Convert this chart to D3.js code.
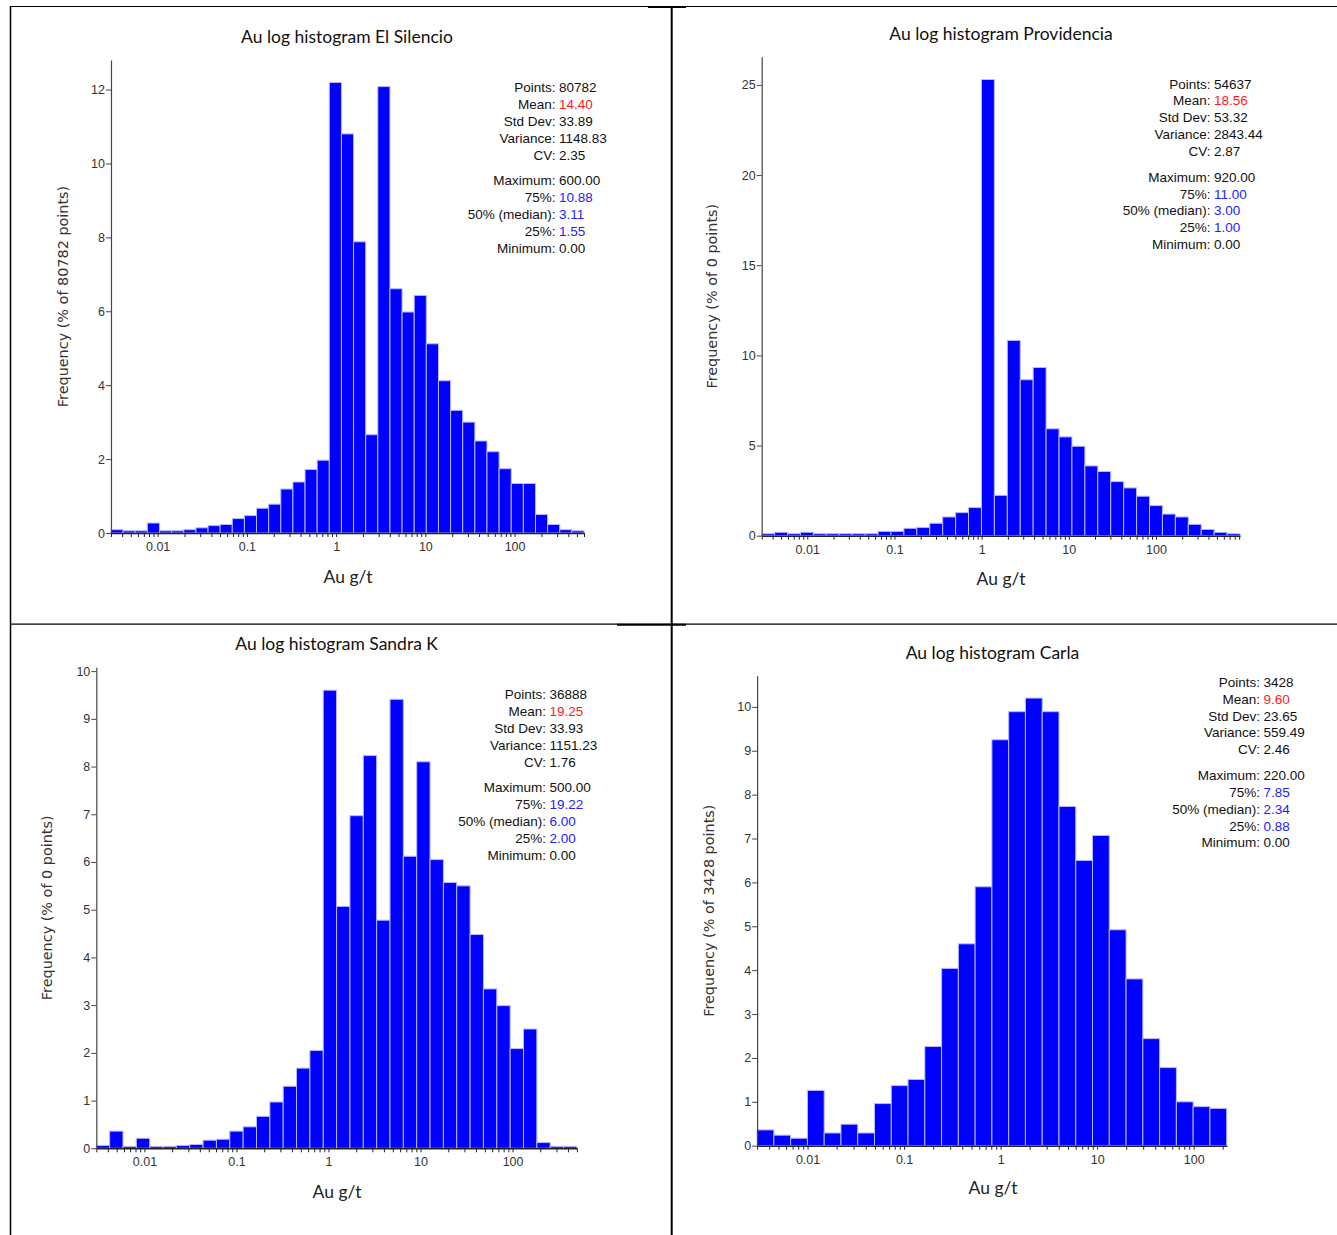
<!DOCTYPE html>
<html><head><meta charset="utf-8">
<script src="https://cdn.jsdelivr.net/npm/d3@7"></script>
<style>body{margin:0;background:#fff} svg{display:block}</style>
</head><body>
<script>
// ---------- data ----------
const minGrade = 0.003;
const maxGrades = [600, 920, 500, 220];
const titles = ["Au log histogram El Silencio", "Au log histogram Providencia", "Au log histogram Sandra K", "Au log histogram Carla"];
const yAxisLabels = ["Frequency (% of 80782 points)", "Frequency (% of 0 points)", "Frequency (% of 0 points)", "Frequency (% of 3428 points)"];
const xAxisLabel = "Au g/t";
const xTickValues = [0.01, 0.1, 1, 10, 100];
const xTickLabels = ["0.01", "0.1", "1", "10", "100"];
const yTickSteps = [2, 5, 1, 1];

const silencioFreq = [0.09,0.06,0.06,0.27,0.06,0.06,0.09,0.14,0.20,0.23,0.39,0.47,0.67,0.78,1.19,1.38,1.72,1.97,12.19,10.80,7.88,2.66,12.08,6.61,5.98,6.43,5.12,4.12,3.32,3.00,2.49,2.20,1.74,1.34,1.34,0.50,0.23,0.09,0.06];
const providenciaFreq = [0.11,0.19,0.11,0.19,0.11,0.11,0.11,0.11,0.11,0.24,0.24,0.41,0.46,0.69,1.04,1.28,1.56,25.3,2.24,10.83,8.65,9.33,5.93,5.48,4.96,3.87,3.56,3.00,2.65,2.19,1.67,1.20,1.04,0.63,0.35,0.19,0.11];
const sandraFreq = [0.06,0.36,0.04,0.21,0.04,0.04,0.06,0.08,0.17,0.19,0.36,0.45,0.67,0.97,1.30,1.68,2.05,9.60,5.07,6.97,8.23,4.78,9.41,6.12,8.10,6.05,5.57,5.50,4.48,3.34,2.99,2.09,2.50,0.12,0.04,0.04];
const carlaFreq = [0.36,0.24,0.17,1.26,0.29,0.49,0.29,0.96,1.37,1.51,2.26,4.04,4.60,5.90,9.25,9.89,10.20,9.89,7.73,6.50,7.07,4.92,3.80,2.44,1.78,1.00,0.89,0.85];

const statLabels = ["Points", "Mean", "Std Dev", "Variance", "CV", "Maximum", "75%", "50% (median)", "25%", "Minimum"];
const silencioStats = ["80782", "14.40", "33.89", "1148.83", "2.35", "600.00", "10.88", "3.11", "1.55", "0.00"];
const providenciaStats = ["54637", "18.56", "53.32", "2843.44", "2.87", "920.00", "11.00", "3.00", "1.00", "0.00"];
const sandraStats = ["36888", "19.25", "33.93", "1151.23", "1.76", "500.00", "19.22", "6.00", "2.00", "0.00"];
const carlaStats = ["3428", "9.60", "23.65", "559.49", "2.46", "220.00", "7.85", "2.34", "0.88", "0.00"];
const statValueColors = ["#111", "#ff1a1a", "#111", "#111", "#111", "#111", "#2222ff", "#2222ff", "#2222ff", "#111"];

const freqSeries = [silencioFreq, providenciaFreq, sandraFreq, carlaFreq];
const statSeries = [silencioStats, providenciaStats, sandraStats, carlaStats];

// ---------- layout (positions only) ----------
const layout = [
  {L:111,   R:584,    T:60,    B:533,    tx:347,   ty:43,   xlx:348,  xly:583,  ylx:67.5,  sx:555.5,  sy:92},
  {L:761.7, R:1240,   T:56.7,  B:535.7,  tx:1001,  ty:40,   xlx:1001, xly:585,  ylx:716.5, sx:1210.5, sy:88.5},
  {L:96.3,  R:576.9,  T:667.3, B:1148.3, tx:336.6, ty:650,  xlx:337,  xly:1198, ylx:51.5,  sx:546,    sy:699},
  {L:757.1, R:1226.7, T:675.7, B:1145.7, tx:992.5, ty:659,  xlx:993,  xly:1194, ylx:713.5, sx:1260,   sy:686.7}
];

const W = 1337, H = 1235;
const svg = d3.select("body").append("svg").attr("width", W).attr("height", H);

const titleFont = "Lato, 'Open Sans', sans-serif";
const tickFont = "'Liberation Sans', Arial, sans-serif";
const ylabFont = "'DejaVu Sans', sans-serif";

// table borders
const border = svg.append("g").attr("stroke", "#000").attr("fill", "none");
border.append("line").attr("x1", 10).attr("x2", W).attr("y1", 6.5).attr("y2", 6.5).attr("stroke-width", 1.2);
border.append("line").attr("x1", 648).attr("x2", 686).attr("y1", 7).attr("y2", 7).attr("stroke-width", 2);
border.append("line").attr("x1", 10).attr("x2", W).attr("y1", 624.2).attr("y2", 624.2).attr("stroke-width", 1.2);
border.append("line").attr("x1", 617).attr("x2", 686).attr("y1", 624.7).attr("y2", 624.7).attr("stroke-width", 2);
border.append("line").attr("x1", 10.5).attr("x2", 10.5).attr("y1", 6).attr("y2", H).attr("stroke-width", 1.5);
border.append("line").attr("x1", 671.7).attr("x2", 671.7).attr("y1", 6.5).attr("y2", H).attr("stroke-width", 2);

freqSeries.forEach((freq, p) => {
  const lo = layout[p];
  const g = svg.append("g");
  const maxGrade = maxGrades[p];
  const x = d3.scaleLog().domain([minGrade, maxGrade]).range([lo.L, lo.R]);
  const yMax = d3.max(freq) * 1.05;
  const y = d3.scaleLinear().domain([0, yMax]).range([lo.B, lo.T]);

  // bin edges equally spaced in log space
  const l0 = Math.log10(minGrade), l1 = Math.log10(maxGrade);
  const n = freq.length;
  const edge = i => Math.pow(10, l0 + (l1 - l0) * i / n);

  g.append("g").selectAll("rect").data(freq).join("rect")
    .attr("x", (d, i) => x(edge(i)))
    .attr("width", (d, i) => x(edge(i + 1)) - x(edge(i)))
    .attr("y", d => y(d))
    .attr("height", d => y(0) - y(d))
    .attr("fill", "#0000ff")
    .attr("stroke", "#b8b8ff")
    .attr("stroke-width", 1);

  // x axis with minor ticks
  const allTicks = [];
  for (let dec = -3; dec <= 3; dec++) {
    for (let k = 1; k <= 9; k++) {
      const v = k * Math.pow(10, dec);
      if (v >= minGrade && v <= maxGrade) allTicks.push(v);
    }
  }
  const xAxis = d3.axisBottom(x).tickValues(allTicks).tickSizeInner(4).tickSizeOuter(0).tickPadding(5)
    .tickFormat(v => {
      const idx = xTickValues.findIndex(t => Math.abs(t - v) / t < 1e-9);
      return idx >= 0 ? xTickLabels[idx] : "";
    });
  const gx = g.append("g").attr("transform", `translate(0,${lo.B})`).call(xAxis);
  gx.select(".domain").attr("stroke", "#222").attr("stroke-width", 1.5);
  gx.selectAll(".tick line").attr("stroke", "#222");
  gx.selectAll("text").attr("font-family", tickFont).attr("font-size", 12.5).attr("fill", "#333");

  // y axis
  const step = yTickSteps[p];
  const yTicks = d3.range(0, yMax + 1e-9, step);
  const yAxis = d3.axisLeft(y).tickValues(yTicks).tickSizeInner(5).tickSizeOuter(0).tickPadding(1).tickFormat(d3.format("d"));
  const gy = g.append("g").attr("transform", `translate(${lo.L},0)`).call(yAxis);
  gy.select(".domain").attr("stroke", "#444").attr("stroke-width", 1.2);
  gy.selectAll(".tick line").attr("stroke", "#444");
  gy.selectAll("text").attr("font-family", tickFont).attr("font-size", 12.5).attr("fill", "#333");

  // title
  g.append("text").attr("x", lo.tx).attr("y", lo.ty).attr("text-anchor", "middle")
    .attr("font-family", titleFont).attr("font-size", 17.5).attr("fill", "#111").text(titles[p]);
  // x label
  g.append("text").attr("x", lo.xlx).attr("y", lo.xly).attr("text-anchor", "middle")
    .attr("font-family", titleFont).attr("font-size", 17.5).attr("fill", "#222").text(xAxisLabel);
  // y label
  g.append("text").attr("transform", `translate(${lo.ylx},${(lo.T + lo.B) / 2}) rotate(-90)`)
    .attr("text-anchor", "middle").attr("font-family", ylabFont).attr("font-size", 14.4).attr("fill", "#333")
    .text(yAxisLabels[p]);

  // stats block
  const stats = statSeries[p];
  const st = g.append("g").attr("font-family", tickFont).attr("font-size", 13.5);
  statLabels.forEach((lab, i) => {
    const yy = lo.sy + i * 16.9 + (i >= 5 ? 8.6 : 0);
    st.append("text").attr("x", lo.sx).attr("y", yy).attr("text-anchor", "end").attr("fill", "#111").text(lab + ":");
    st.append("text").attr("x", lo.sx + 3.5).attr("y", yy).attr("fill", statValueColors[i]).text(stats[i]);
  });
});
</script>
</body></html>
